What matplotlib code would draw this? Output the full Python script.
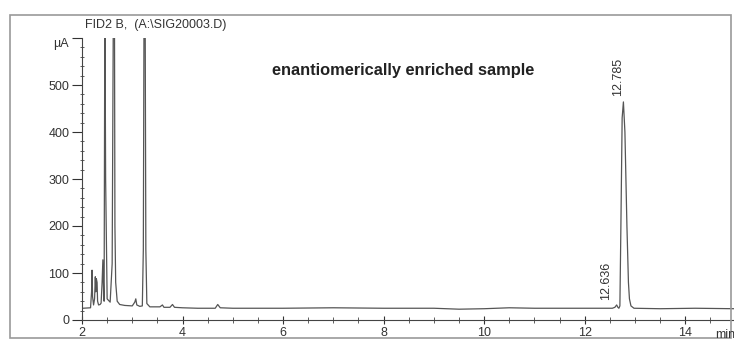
import matplotlib
matplotlib.use("Agg")
import matplotlib.pyplot as plt
from matplotlib.patches import Rectangle
from matplotlib.ticker import MultipleLocator

plt.rcParams['font.family'] = ['Liberation Sans', 'DejaVu Sans']

# chromatogram trace (retention time in min, signal in pA)
time = [2.02, 2.17, 2.19, 2.20, 2.21, 2.23, 2.25, 2.265, 2.275, 2.285, 2.30, 2.31,
        2.33, 2.36, 2.38, 2.40, 2.415, 2.43, 2.44, 2.455, 2.47, 2.50, 2.56, 2.60,
        2.625, 2.645, 2.655, 2.67, 2.70, 2.75, 2.85, 3.00, 3.05, 3.07, 3.09, 3.15,
        3.20, 3.22, 3.235, 3.255, 3.27, 3.29, 3.35, 3.45, 3.55, 3.60, 3.63, 3.75,
        3.80, 3.84, 4.00, 4.30, 4.65, 4.70, 4.75, 5.00, 6.0, 7.0, 8.0, 9.0, 9.5,
        10.0, 10.5, 11.0, 11.5, 12.0, 12.55, 12.60, 12.636, 12.66, 12.68, 12.70,
        12.72, 12.745, 12.77, 12.80, 12.84, 12.87, 12.89, 12.92, 12.98, 13.5,
        14.2, 14.97]
signal = [25, 26, 60, 106, 50, 32, 45, 92, 60, 88, 80, 40,
          32, 33, 36, 80, 128, 60, 40, 700, 300, 45, 38, 120,
          700, 700, 200, 80, 40, 33, 31, 30, 38, 45, 32, 29,
          30, 150, 700, 700, 150, 35, 28, 28, 28, 32, 27, 27,
          33, 27, 26, 25, 25, 33, 26, 25, 25, 26, 25, 25, 23,
          24, 26, 25, 25, 25, 25, 27, 32, 27, 25, 30,
          200, 430, 464, 400, 200, 80, 45, 30, 25, 24,
          25, 24]

peak_times = [12.636, 12.785]
peak_labels = ["12.636", "12.785"]
label_pos = [(12.43, 43), (12.67, 476)]

y_ticks = [0, 100, 200, 300, 400, 500, 600]
y_ticklabels = ["0", "100", "200", "300", "400", "500", ""]
y_unit = "µA"
x_ticks = [2, 4, 6, 8, 10, 12, 14]

fig = plt.figure(figsize=(7.34, 3.41), dpi=100)
ax = fig.add_axes([82/734, 1-320/341, 652/734, 282/341])

col = '#555555'
ax.plot(time, signal, color=col, lw=0.9)
ax.set_xlim(2, 14.97)
ax.set_ylim(0, 600)

for s in ['top', 'right']:
    ax.spines[s].set_visible(False)
ax.spines['left'].set_color('#444444')
ax.spines['bottom'].set_color('#444444')

ax.set_yticks(y_ticks)
ax.set_yticklabels(y_ticklabels)
ax.set_xticks(x_ticks)
ax.set_xticklabels([str(v) for v in x_ticks])
ax.yaxis.set_minor_locator(MultipleLocator(20))
ax.xaxis.set_minor_locator(MultipleLocator(0.5))
ax.tick_params(axis='y', which='major', direction='out', length=7, labelsize=9,
               colors='#333333', pad=2)
ax.tick_params(axis='y', which='minor', direction='inout', length=3, color='#444444')
ax.tick_params(axis='x', which='major', direction='inout', length=6, labelsize=9,
               colors='#333333', pad=2)
ax.tick_params(axis='x', which='minor', direction='inout', length=4, color='#444444')

# unit label sits just below the top tick
ax.text(-13/652, 600, y_unit, transform=ax.get_yaxis_transform(), ha='right',
        va='top', fontsize=9, color='#333333')

for (lx, ly), lab in zip(label_pos, peak_labels):
    ax.text(lx, ly, lab, rotation=90, ha='center', va='bottom', fontsize=9,
            color='#333333')

ax.text(403/734, 1-70/341, "enantiomerically enriched sample", transform=fig.transFigure,
        ha='center', va='center', fontsize=11.8, fontweight='bold', color='#222222')
fig.text(85/734, 1-25/341, "FID2 B,  (A:\\SIG20003.D)", ha='left', va='center',
         fontsize=9, color='#333333')
fig.text(715/734, 1-335/341, "min", ha='left', va='center', fontsize=9, color='#333333')

fig.patches.append(Rectangle((10/734, 1-338/341), 721/734, 323/341,
                             transform=fig.transFigure, fill=False,
                             edgecolor='#999999', lw=1.2))

fig.savefig("out.png", dpi=100)
